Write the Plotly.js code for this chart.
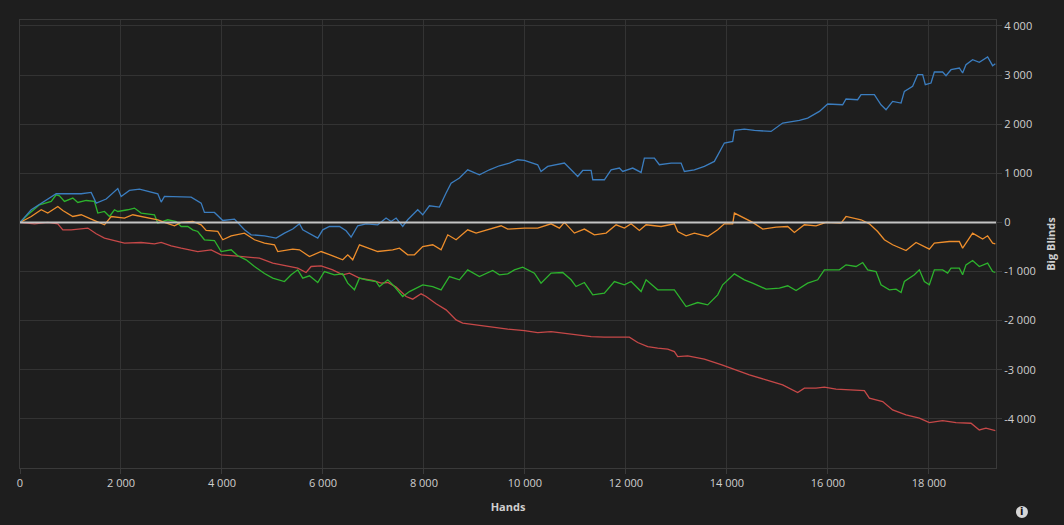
<!DOCTYPE html>
<html>
<head>
<meta charset="utf-8">
<script src="https://cdn.plot.ly/plotly-3.0.1.min.js"></script>
<style>
  html, body { margin:0; padding:0; background:#1e1e1e; }
  #chart { width:1064px; height:525px; }
</style>
</head>
<body>
<div id="chart"></div>
<script>
// Hands / big blinds, one pair of arrays per line
const blueHands = [0,222,717,1212,1410,1509,1707,1937,2003,2168,2366,2729,2796,2861,3390,3588,3653,3851,4016,4248,4446,4578,4842,5073,5238,5402,5535,5600,5897,5996,6129,6327,6459,6558,6689,6855,7085,7250,7350,7449,7580,7679,7877,7976,8109,8307,8439,8538,8703,8867,9099,9297,9495,9693,9857,9990,10253,10319,10451,10782,10915,11046,11145,11311,11344,11574,11707,11871,11937,12135,12301,12366,12564,12663,12895,13093,13158,13356,13554,13752,13950,14115,14149,14347,14545,14875,15105,15436,15600,15832,15996,16293,16360,16590,16657,16921,17053,17152,17283,17450,17515,17679,17778,17877,17930,18043,18109,18273,18340,18439,18604,18669,18735,18867,18999,19164,19263,19317];
const blueBB = [0,257,583,583,610,393,475,690,528,650,678,583,413,528,515,393,202,202,39,67,-151,-253,-273,-320,-218,-136,-29,-151,-320,-151,-84,-84,-171,-299,-69,-29,-49,88,18,88,-84,53,257,155,338,312,597,800,902,1071,970,1071,1153,1208,1275,1261,1173,1037,1139,1208,1071,935,1057,1057,868,868,1071,1106,1037,1106,1017,1310,1310,1173,1208,1208,1037,1071,1139,1241,1615,1648,1872,1900,1872,1852,2023,2076,2124,2259,2410,2395,2512,2497,2599,2599,2395,2294,2463,2430,2667,2769,3007,3007,2803,2837,3061,3061,2986,3108,3143,3041,3210,3312,3257,3367,3190,3230];

const orangeHands = [0,222,420,550,749,848,1046,1212,1410,1673,1806,2069,2234,2432,2729,2861,3059,3192,3422,3588,3687,3917,4016,4182,4446,4644,4842,5040,5105,5402,5535,5733,5964,6194,6392,6491,6590,6723,6887,7085,7382,7515,7679,7812,7976,8174,8340,8472,8637,8867,9033,9362,9528,9660,9990,10253,10518,10683,10782,10980,11178,11376,11608,11806,11970,12103,12267,12400,12697,12960,13026,13192,13356,13620,13818,13950,14115,14149,14347,14511,14710,14975,15205,15337,15535,15766,15964,16261,16360,16657,16822,16986,17119,17283,17548,17746,18010,18109,18406,18604,18669,18867,19065,19164,19263,19317];
const orangeBB = [0,120,257,190,324,243,120,155,67,-49,120,88,155,120,53,0,-69,0,18,-49,-165,-185,-354,-273,-218,-354,-420,-456,-593,-544,-558,-695,-593,-680,-762,-660,-762,-456,-524,-593,-558,-524,-660,-660,-491,-456,-558,-253,-354,-151,-218,-116,-69,-136,-116,-116,-29,-116,0,-218,-136,-253,-218,-49,-116,-29,-165,-49,-84,-29,-185,-273,-218,-287,-151,-29,-29,190,88,0,-136,-96,-84,-206,-49,-69,0,-14,120,53,-29,-185,-354,-456,-572,-409,-544,-422,-389,-389,-524,-218,-340,-273,-422,-436];

const greenHands = [0,155,386,618,717,782,881,1046,1145,1311,1475,1541,1673,1772,1871,1937,2135,2267,2399,2663,2729,2927,3093,3192,3323,3422,3521,3653,3851,3983,4182,4313,4479,4644,4842,5006,5238,5370,5501,5600,5733,5897,6030,6228,6392,6491,6624,6723,6855,7053,7119,7284,7416,7580,7713,7845,7976,8174,8340,8505,8703,8867,9099,9362,9495,9660,9792,9956,10188,10319,10518,10749,10915,11013,11178,11344,11574,11772,11970,12103,12301,12400,12630,12960,13026,13192,13422,13620,13818,13917,14149,14347,14511,14776,15040,15205,15370,15600,15798,15931,16228,16360,16558,16690,16789,16954,17053,17218,17350,17450,17515,17713,17812,17911,18010,18109,18273,18372,18439,18604,18669,18735,18867,18999,19164,19263,19317];
const greenBB = [0,155,358,426,562,542,426,495,405,446,426,190,222,120,257,222,257,291,190,155,-14,53,18,-84,-84,-151,-185,-354,-369,-593,-558,-680,-762,-898,-1040,-1135,-1204,-1067,-966,-1135,-1088,-1224,-1000,-1067,-1047,-1237,-1373,-1135,-1169,-1204,-1306,-1169,-1306,-1509,-1408,-1340,-1271,-1306,-1373,-1102,-1169,-966,-1102,-980,-1067,-1047,-966,-911,-1033,-1237,-1033,-1020,-1169,-1306,-1224,-1475,-1440,-1204,-1271,-1204,-1408,-1169,-1373,-1373,-1475,-1713,-1632,-1679,-1475,-1271,-1047,-1169,-1237,-1359,-1338,-1291,-1387,-1237,-1169,-966,-966,-864,-898,-817,-966,-1000,-1271,-1373,-1359,-1428,-1204,-1067,-966,-1204,-1271,-966,-966,-1033,-931,-931,-1067,-864,-776,-898,-829,-1000,-1020];

const redHands = [0,287,550,749,848,1014,1343,1509,1673,1871,2069,2399,2663,2796,2994,3192,3521,3786,3983,4248,4511,4743,5006,5271,5501,5666,5766,5964,6194,6392,6525,6723,6986,7152,7284,7449,7647,7778,7944,8043,8241,8439,8637,8768,9033,9362,9660,9990,10253,10518,10782,11046,11311,11574,11838,12069,12234,12432,12630,12828,12960,13026,13224,13422,13554,13900,14150,14446,14776,15105,15402,15535,15766,15931,16162,16426,16723,16822,17086,17283,17548,17812,18010,18273,18538,18835,18999,19131,19317];
const redBB = [0,-29,0,-29,-151,-151,-116,-232,-320,-369,-422,-409,-436,-409,-477,-524,-593,-558,-660,-680,-707,-727,-829,-884,-931,-1020,-898,-884,-966,-1067,-1033,-1135,-1183,-1237,-1224,-1318,-1509,-1563,-1454,-1509,-1658,-1780,-1984,-2051,-2086,-2120,-2174,-2202,-2243,-2222,-2255,-2290,-2324,-2337,-2337,-2337,-2446,-2528,-2561,-2581,-2630,-2732,-2718,-2765,-2785,-2900,-2990,-3104,-3206,-3308,-3464,-3375,-3375,-3355,-3395,-3410,-3424,-3579,-3648,-3817,-3919,-3987,-4076,-4035,-4076,-4089,-4225,-4190,-4239];

const xTicks = [0,2000,4000,6000,8000,10000,12000,14000,16000,18000];
const xTickText = ["0","2 000","4 000","6 000","8 000","10 000","12 000","14 000","16 000","18 000"];
const yTicks = [-4000,-3000,-2000,-1000,0,1000,2000,3000,4000];
const yTickText = ["-4 000","-3 000","-2 000","-1 000","0","1 000","2 000","3 000","4 000"];

const TXT = "#cfcfcf";
const GRID = "#333333";
const FONT = "Open Sans, Noto Sans, sans-serif";

function line(x, y, color){
  return { x, y, type:"scatter", mode:"lines", hoverinfo:"skip",
    line:{ color, width:1.3 } };
}

const traces = [
  line(redHands, redBB, "#c64848"),
  line(greenHands, greenBB, "#2db32d"),
  line(orangeHands, orangeBB, "#ee8e2c"),
  line(blueHands, blueBB, "#3b7dbf")
];

const layout = {
  width:1064, height:525,
  margin:{l:20, r:68, t:20, b:57},
  paper_bgcolor:"#1e1e1e", plot_bgcolor:"#1e1e1e",
  showlegend:false,
  font:{family:FONT, size:11, color:TXT},
  xaxis:{
    range:[0,19330], tickvals:xTicks, ticktext:xTickText,
    showgrid:true, gridcolor:GRID, zeroline:false,
    showline:true, linecolor:"#3a3a3a", mirror:true,
    ticks:"outside", ticklen:5, tickcolor:"#3a3a3a",
    tickfont:{size:11, color:TXT},
    title:{text:"<b>Hands</b>", font:{size:11, color:TXT}, standoff:14}
  },
  yaxis:{
    side:"right", range:[-5000,4120], tickvals:yTicks, ticktext:yTickText,
    showgrid:true, gridcolor:GRID, zeroline:false,
    showline:true, linecolor:"#3a3a3a", mirror:true,
    ticks:"outside", ticklen:5, tickcolor:"#3a3a3a",
    tickfont:{size:11, color:TXT},
    title:{text:"<b>Big Blinds</b>", font:{size:11, color:TXT}, standoff:12}
  },
  shapes:[
    { type:"line", xref:"paper", yref:"y", x0:0, x1:1, y0:0, y1:0,
      layer:"above", line:{color:"#c4c4c4", width:2} },
    // info icon disc
    { type:"circle", xref:"paper", yref:"paper", xsizemode:"pixel", ysizemode:"pixel",
      xanchor:1.0266, yanchor:-0.098, x0:-6, x1:6, y0:-6, y1:6,
      layer:"below", fillcolor:"#d6d6d6", line:{width:0} }
  ],
  annotations:[
    { xref:"paper", yref:"paper", x:1.0266, y:-0.098, xanchor:"center", yanchor:"middle",
      text:"<b>i</b>", showarrow:false,
      font:{family:"DejaVu Sans, sans-serif", size:10, color:"#111111"} }
  ]
};

Plotly.newPlot("chart", traces, layout, {displayModeBar:false, staticPlot:true});
</script>
</body>
</html>
